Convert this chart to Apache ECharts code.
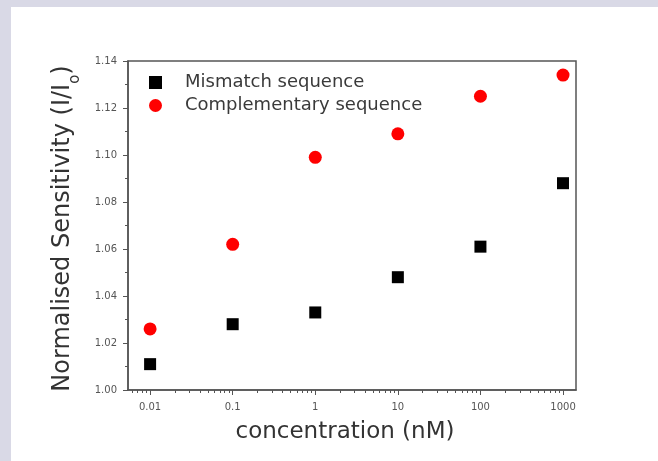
<!DOCTYPE html>
<html>
<head>
<meta charset="utf-8">
<script src="https://cdn.jsdelivr.net/npm/echarts@6/dist/echarts.min.js"></script>
<style>
    html, body { margin: 0; padding: 0; background: #d9d9e6; }
    #chart { position: absolute; left: 11px; top: 7px; width: 647px; height: 454px; background: #fff; }
</style>
</head>
<body>
<div id="chart"></div>
<script>
    const concentrations = [0.01, 0.1, 1, 10, 100, 1000];
    const mismatch = [1.011, 1.028, 1.033, 1.048, 1.061, 1.088];
    const complementary = [1.026, 1.062, 1.099, 1.109, 1.125, 1.134];
    const xMajorTicks = [0.01, 0.1, 1, 10, 100, 1000];
    const xMinorTicks = [];
    [0.001, 0.01, 0.1, 1, 10, 100, 1000].forEach(function(d) {
        for (let k = 2; k <= 9; k++) xMinorTicks.push(+(d * k).toPrecision(3));
    });

    document.addEventListener('DOMContentLoaded', function() {
        const chart = echarts.init(document.getElementById('chart'));
        const axisColor = '#555';
        const labelColor = '#555';

        chart.setOption({
            animation: false,
            backgroundColor: '#fff',
            textStyle: { fontFamily: 'DejaVu Sans' },
            grid: {
                left: 117, right: 82, top: 54, bottom: 71,
                show: true, borderColor: axisColor, borderWidth: 1.5
            },
            legend: {
                orient: 'vertical',
                left: 133,
                top: 61,
                itemWidth: 13,
                itemHeight: 13,
                itemGap: 4,
                textStyle: { fontSize: 18, lineHeight: 19, color: '#3a3a3a', padding: [0, 0, 0, 18] },
                data: [
                    { name: 'Mismatch sequence', icon: 'rect' },
                    { name: 'Complementary sequence', icon: 'circle' }
                ]
            },
            xAxis: [{
                type: 'log',
                logBase: 10,
                min: 0.0054,
                max: 1436,
                name: 'concentration (nM)',
                nameLocation: 'middle',
                nameGap: 31,
                nameTextStyle: { fontSize: 23, color: '#333', padding: [0, 14, 0, 0] },
                axisLine: { lineStyle: { color: axisColor, width: 1.5 } },
                axisTick: { customValues: xMajorTicks, length: 5, lineStyle: { color: axisColor } },
                axisLabel: {
                    customValues: xMajorTicks,
                    margin: 12,
                    fontSize: 10,
                    color: labelColor,
                    formatter: function(v) { return String(+v.toPrecision(3)); }
                },
                splitLine: { show: false }
            }, {
                type: 'log',
                logBase: 10,
                min: 0.0054,
                max: 1436,
                position: 'bottom',
                axisLine: { show: false },
                axisTick: { customValues: xMinorTicks, length: 3, lineStyle: { color: axisColor } },
                axisLabel: { show: false },
                splitLine: { show: false }
            }],
            yAxis: {
                type: 'value',
                min: 1.0,
                max: 1.14,
                interval: 0.02,
                name: 'Normalised Sensitivity (I/I{sub|o})',
                nameLocation: 'middle',
                nameGap: 53,
                nameTextStyle: {
                    fontSize: 24, color: '#333',
                    padding: [0, 6, 0, 0],
                    rich: { sub: { fontSize: 15, color: '#333', verticalAlign: 'bottom', padding: [0, 0, -8, 0] } }
                },
                axisLine: { show: true, lineStyle: { color: axisColor, width: 1.5 } },
                axisTick: { length: 5, lineStyle: { color: axisColor } },
                minorTick: { show: true, splitNumber: 2, length: 3, lineStyle: { color: axisColor } },
                axisLabel: {
                    margin: 11,
                    fontSize: 10,
                    color: labelColor,
                    formatter: function(v) { return v.toFixed(2); }
                },
                splitLine: { show: false }
            },
            series: [{
                name: 'Mismatch sequence',
                type: 'scatter',
                symbol: 'rect',
                symbolSize: 12,
                itemStyle: { color: '#000', opacity: 1 },
                data: concentrations.map(function(c, i) { return [c, mismatch[i]]; })
            }, {
                name: 'Complementary sequence',
                type: 'scatter',
                symbol: 'circle',
                symbolSize: 13,
                itemStyle: { color: '#f00', opacity: 1 },
                data: concentrations.map(function(c, i) { return [c, complementary[i]]; })
            }]
        });

        window.addEventListener('resize', function() {
            chart.resize();
        });
    });
</script>
</body>
</html>
